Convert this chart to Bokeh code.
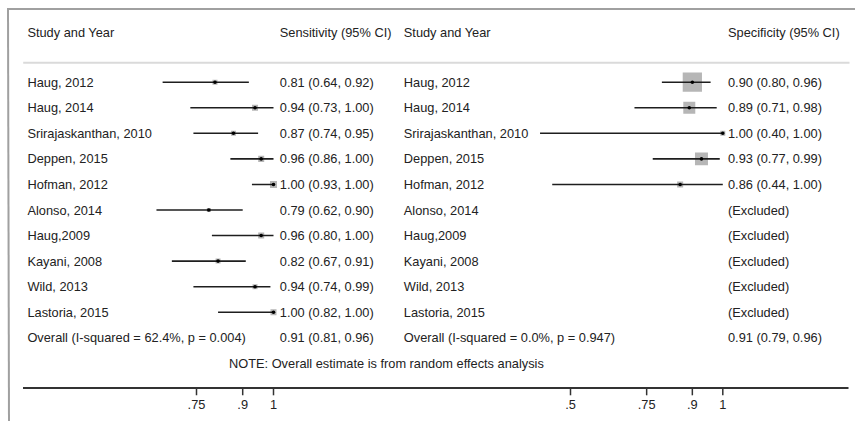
import math
from bokeh.plotting import figure
from bokeh.models import Range1d, ColumnDataSource
from bokeh.core.properties import value
from bokeh.embed import file_html
from bokeh.resources import INLINE

# ---------------- data ----------------
studies = ["Haug, 2012", "Haug, 2014", "Srirajaskanthan, 2010", "Deppen, 2015",
           "Hofman, 2012", "Alonso, 2014", "Haug,2009", "Kayani, 2008",
           "Wild, 2013", "Lastoria, 2015"]

sens = [0.81, 0.94, 0.87, 0.96, 1.00, 0.79, 0.96, 0.82, 0.94, 1.00]
sens_lo = [0.64, 0.73, 0.74, 0.86, 0.93, 0.62, 0.80, 0.67, 0.74, 0.82]
sens_hi = [0.92, 1.00, 0.95, 1.00, 1.00, 0.90, 1.00, 0.91, 0.99, 1.00]
sens_weight = [8.1, 11.7, 8.1, 11.7, 15.9, 5.2, 11.7, 8.1, 8.1, 11.7]

# None = excluded from the specificity analysis
spec = [0.90, 0.89, 1.00, 0.93, 0.86, None, None, None, None, None]
spec_lo = [0.80, 0.71, 0.40, 0.77, 0.44, None, None, None, None, None]
spec_hi = [0.96, 0.98, 1.00, 0.99, 1.00, None, None, None, None, None]
spec_weight = [49.8, 19.3, 3.4, 22.6, 4.9, None, None, None, None, None]

sens_overall = [0.91, 0.81, 0.96]
spec_overall = [0.91, 0.79, 0.96]
sens_het = "Overall  (I-squared = 62.4%, p = 0.004)"
spec_het = "Overall  (I-squared = 0.0%, p = 0.947)"
note = "NOTE: Overall estimate is from random effects analysis"

sens_ticks = [0.75, 0.9, 1.0]
sens_tick_labels = [".75", ".9", "1"]
spec_ticks = [0.5, 0.75, 0.9, 1.0]
spec_tick_labels = [".5", ".75", ".9", "1"]

# ---------------- layout helpers ----------------
W, H = 855, 421
ROW1_PX, ROW_H = 81.7, 25.56   # page y of first study row, row pitch


def ry(page_y):
    """page pixel y -> row coordinate"""
    return 1 + (page_y - ROW1_PX) / ROW_H


Y_TOP, Y_BOT = ry(0), ry(H)

FONT = value("Liberation Sans")
FS = "12.8px"
TXT = "#222222"

p = figure(width=W, height=H, x_range=Range1d(0, W), y_range=Range1d(Y_BOT, Y_TOP),
           x_axis_type=None, y_axis_type=None, toolbar_location=None,
           output_backend="svg", min_border=0, outline_line_color=None,
           background_fill_color="white", border_fill_color="white")
p.xgrid.visible = False
p.ygrid.visible = False

# sensitivity: 1.0 at x 273, 308 px per unit
# specificity: 1.0 at x 722.3, 304.6 px per unit
p.extra_x_ranges = {
    "sens": Range1d(1 - 273 / 308, 1 + (W - 273) / 308),
    "spec": Range1d(1 - 722.3 / 304.6, 1 + (W - 722.3) / 304.6),
}

rows = list(range(1, len(studies) + 1))
row_overall = len(studies) + 1
row_note = len(studies) + 2
row_header = ry(31.7)

# graph region border (top / left)
p.segment(x0=[8.5, 7.5], x1=[W, 8.5], y0=[ry(8.5), ry(7.5)], y1=[ry(8.5), Y_BOT],
          line_color="#a0a0a0", line_width=2)

# header separator
p.segment(x0=22.7, x1=849, y0=ry(62.3), y1=ry(62.3), line_color="#dadada", line_width=2)

# ---------- sensitivity panel ----------
s_src = ColumnDataSource(dict(
    x=sens, lo=sens_lo, hi=sens_hi, y=rows,
    size=[1.76 * math.sqrt(w) for w in sens_weight]))
p.scatter(x="x", y="y", size="size", marker="square", source=s_src,
          fill_color="#b6b6b6", line_color=None, x_range_name="sens")
p.segment(x0="lo", x1="hi", y0="y", y1="y", source=s_src,
          line_color="#1e1e1e", line_width=1.6, x_range_name="sens")
p.scatter(x="x", y="y", size=3.6, marker="circle", source=s_src,
          fill_color="black", line_color=None, x_range_name="sens")

# ---------- specificity panel ----------
idx = [i for i, v in enumerate(spec) if v is not None]
p_src = ColumnDataSource(dict(
    x=[spec[i] for i in idx], lo=[spec_lo[i] for i in idx], hi=[spec_hi[i] for i in idx],
    y=[rows[i] for i in idx],
    size=[2.73 * math.sqrt(spec_weight[i]) for i in idx]))
p.scatter(x="x", y="y", size="size", marker="square", source=p_src,
          fill_color="#b6b6b6", line_color=None, x_range_name="spec")
p.segment(x0="lo", x1="hi", y0="y", y1="y", source=p_src,
          line_color="#1e1e1e", line_width=1.6, x_range_name="spec")
p.scatter(x="x", y="y", size=3.6, marker="circle", source=p_src,
          fill_color="black", line_color=None, x_range_name="spec")


# ---------- texts ----------
def fmt(v, lo, hi):
    if v is None:
        return "(Excluded)"
    return f"{v:.2f} ({lo:.2f}, {hi:.2f})"


def add_text(x, y, text, align="left"):
    src = ColumnDataSource(dict(x=x, y=y, t=text))
    p.text(x="x", y="y", text="t", source=src, text_font=FONT, text_font_size=FS,
           text_color=TXT, text_baseline="middle", text_align=align)


LEFT_NAME_X, LEFT_VAL_X = 26.9, 279.3
RIGHT_NAME_X, RIGHT_VAL_X = 403.3, 727.5

col_y = [row_header] + rows + [row_overall]
add_text([LEFT_NAME_X] * len(col_y), col_y, ["Study and Year"] + studies + [sens_het])
add_text([LEFT_VAL_X] * len(col_y), col_y,
         ["Sensitivity (95% CI)"] + [fmt(*t) for t in zip(sens, sens_lo, sens_hi)]
         + [fmt(*sens_overall)])
add_text([RIGHT_NAME_X] * len(col_y), col_y, ["Study and Year"] + studies + [spec_het])
add_text([RIGHT_VAL_X] * len(col_y), col_y,
         ["Specificity (95% CI)"] + [fmt(*t) for t in zip(spec, spec_lo, spec_hi)]
         + [fmt(*spec_overall)])
add_text([228.5], [row_note], [note])

# ---------- axes (baseline, ticks, tick labels) ----------
base_y, tick_y, lab_y = ry(387.5), ry(394.8), ry(403.5)
p.segment(x0=22.5, x1=848, y0=base_y, y1=base_y, line_color="#333333", line_width=2)
for rng, ticks, labels in (("sens", sens_ticks, sens_tick_labels),
                           ("spec", spec_ticks, spec_tick_labels)):
    p.segment(x0=ticks, x1=ticks, y0=base_y, y1=tick_y, line_color="#333333",
              line_width=1.5, x_range_name=rng)
    p.text(x=ticks, y=[lab_y] * len(ticks), text=labels, text_font=FONT,
           text_font_size=FS, text_color=TXT, text_baseline="middle",
           text_align="center", x_range_name=rng)

open("out.html", "w").write(file_html(p, INLINE))
